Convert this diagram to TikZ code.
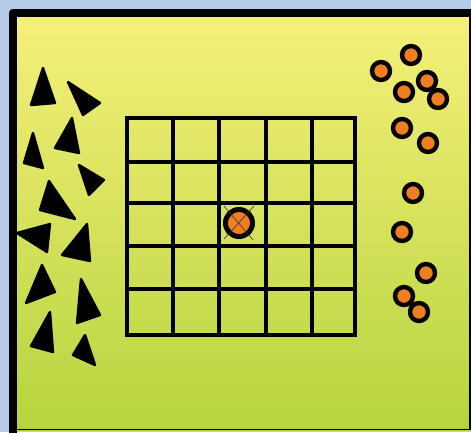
\documentclass[tikz,border=0pt]{standalone}
\usepackage{tikz}
\usetikzlibrary{calc}
\definecolor{field@sky}{RGB}{180,204,233}
\definecolor{field@top}{RGB}{246,240,122}
\definecolor{field@bottom}{RGB}{182,212,62}
\definecolor{field@orange}{RGB}{240,127,34}
\tikzset{
  field/.style={
    x=1pt, y=-1pt,
    line join=round
  },
  gridline/.style={draw=black, line width=4.8pt, line cap=rect},
  piece/.style={fill=black, draw=black, line width=2.4pt, line join=round},
  ball/.style={fill=field@orange, draw=black, line width=4.4pt},
  target/.style={fill=field@orange, draw=black, line width=5pt},
  aimline/.style={draw=black!80, line width=0.6pt}
}

\begin{document}
\begin{tikzpicture}[field]
\useasboundingbox (0,0) rectangle (471,432);
% sky background
\fill[field@sky] (0,0) rectangle (471,432);

% the field with its frame
\shade[top color=field@top, bottom color=field@bottom] (13,12) rectangle (470,430);
\draw[black, line width=1.6pt] (470,12) -- (470,429.5) -- (13,429.5);
\draw[black, line width=8pt, line cap=rect] (13,429) -- (13,12.5) -- (470,12.5);

% board of 5 x 5 squares
\foreach \x in {127,173,219,266,312,355} {
  \draw[gridline] (\x,118) -- (\x,335);
}
\foreach \y in {118,162,203,246,289,335} {
  \draw[gridline] (127,\y) -- (355,\y);
}

% marked ball in the middle square
\node[circle, target, minimum size=27pt, inner sep=0pt] (mark) at (239,223) {};
\coordinate (nw) at (224,206);
\coordinate (se) at (253,240);
\coordinate (ne) at (254,206);
\coordinate (sw) at (224,239);
\draw[aimline] (nw) -- (se);
\draw[aimline] (ne) -- (sw);

% black pieces on the left
\foreach \ax/\ay/\bx/\by/\cx/\cy in {
    43/68/31/105/55/103,    68/82/100/103/83/115,
    33/133/24/163/43/168,   72/118/55/148/79/153,
    79/165/104/180/89/195,  49/181/40/210/75/219,
    17/233/50/224/47/252,   87/224/62/255/90/261,
    42/265/26/303/55/292,   81/279/77/323/100/315,
    50/312/31/346/53/352,   85/335/73/355/95/365} {
  \filldraw[piece] (\ax,\ay) -- (\bx,\by) -- (\cx,\cy) -- cycle;
}

% orange balls on the right
\foreach \x/\y in {411/55, 381/71, 427/81, 404/92, 438/99, 402/128,
                   428/143, 413/193, 402/232, 426/273, 404/296, 419/312} {
  \node[circle, ball, minimum size=18pt, inner sep=0pt] at (\x,\y) {};
}
\end{tikzpicture}
\end{document}
